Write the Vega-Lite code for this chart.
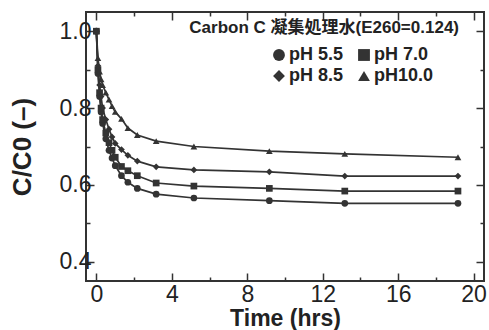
{
  "$schema": "https://vega.github.io/schema/vega-lite/v6.json",
  "width": 398,
  "height": 269,
  "autosize": "none",
  "padding": {"left": 86, "top": 12, "right": 5, "bottom": 49},
  "background": "white",
  "title": {"text": "Carbon C  凝集処理水(E260=0.124)", "anchor": "end", "frame": "group", "orient": "top", "offset": -26, "dx": -25,
    "font": "Liberation Sans, Noto Sans CJK JP", "fontSize": 17, "fontWeight": "bold", "color": "#222"},
  "config": {
    "view": {"stroke": "#333", "strokeWidth": 2},
    "font": "Liberation Sans",
    "axis": {"grid": false, "domain": false, "tickColor": "#333", "tickWidth": 1.5, "labelColor": "#222", "titleColor": "#222"}
  },
  "data": {"values": [
    {"t": 0, "v": 1.0, "pH": "pH 5.5"},
    {"t": 0.083, "v": 0.89, "pH": "pH 5.5"},
    {"t": 0.17, "v": 0.83, "pH": "pH 5.5"},
    {"t": 0.25, "v": 0.79, "pH": "pH 5.5"},
    {"t": 0.33, "v": 0.76, "pH": "pH 5.5"},
    {"t": 0.5, "v": 0.72, "pH": "pH 5.5"},
    {"t": 0.67, "v": 0.69, "pH": "pH 5.5"},
    {"t": 0.83, "v": 0.67, "pH": "pH 5.5"},
    {"t": 1.0, "v": 0.65, "pH": "pH 5.5"},
    {"t": 1.33, "v": 0.624, "pH": "pH 5.5"},
    {"t": 1.67, "v": 0.607, "pH": "pH 5.5"},
    {"t": 2.17, "v": 0.591, "pH": "pH 5.5"},
    {"t": 3.17, "v": 0.576, "pH": "pH 5.5"},
    {"t": 5.17, "v": 0.566, "pH": "pH 5.5"},
    {"t": 9.17, "v": 0.559, "pH": "pH 5.5"},
    {"t": 13.17, "v": 0.552, "pH": "pH 5.5"},
    {"t": 19.17, "v": 0.552, "pH": "pH 5.5"},
    {"t": 0, "v": 1.0, "pH": "pH 7.0"},
    {"t": 0.083, "v": 0.9, "pH": "pH 7.0"},
    {"t": 0.17, "v": 0.84, "pH": "pH 7.0"},
    {"t": 0.25, "v": 0.8, "pH": "pH 7.0"},
    {"t": 0.33, "v": 0.77, "pH": "pH 7.0"},
    {"t": 0.5, "v": 0.735, "pH": "pH 7.0"},
    {"t": 0.67, "v": 0.71, "pH": "pH 7.0"},
    {"t": 0.83, "v": 0.69, "pH": "pH 7.0"},
    {"t": 1.0, "v": 0.672, "pH": "pH 7.0"},
    {"t": 1.33, "v": 0.648, "pH": "pH 7.0"},
    {"t": 1.67, "v": 0.637, "pH": "pH 7.0"},
    {"t": 2.17, "v": 0.624, "pH": "pH 7.0"},
    {"t": 3.17, "v": 0.605, "pH": "pH 7.0"},
    {"t": 5.17, "v": 0.597, "pH": "pH 7.0"},
    {"t": 9.17, "v": 0.591, "pH": "pH 7.0"},
    {"t": 13.17, "v": 0.584, "pH": "pH 7.0"},
    {"t": 19.17, "v": 0.584, "pH": "pH 7.0"},
    {"t": 0, "v": 1.0, "pH": "pH 8.5"},
    {"t": 0.083, "v": 0.91, "pH": "pH 8.5"},
    {"t": 0.17, "v": 0.86, "pH": "pH 8.5"},
    {"t": 0.25, "v": 0.83, "pH": "pH 8.5"},
    {"t": 0.33, "v": 0.8, "pH": "pH 8.5"},
    {"t": 0.5, "v": 0.77, "pH": "pH 8.5"},
    {"t": 0.67, "v": 0.745, "pH": "pH 8.5"},
    {"t": 0.83, "v": 0.725, "pH": "pH 8.5"},
    {"t": 1.0, "v": 0.708, "pH": "pH 8.5"},
    {"t": 1.33, "v": 0.692, "pH": "pH 8.5"},
    {"t": 1.67, "v": 0.677, "pH": "pH 8.5"},
    {"t": 2.17, "v": 0.662, "pH": "pH 8.5"},
    {"t": 3.17, "v": 0.647, "pH": "pH 8.5"},
    {"t": 5.17, "v": 0.639, "pH": "pH 8.5"},
    {"t": 9.17, "v": 0.634, "pH": "pH 8.5"},
    {"t": 13.17, "v": 0.623, "pH": "pH 8.5"},
    {"t": 19.17, "v": 0.623, "pH": "pH 8.5"},
    {"t": 0, "v": 1.0, "pH": "pH10.0"},
    {"t": 0.083, "v": 0.93, "pH": "pH10.0"},
    {"t": 0.17, "v": 0.895, "pH": "pH10.0"},
    {"t": 0.25, "v": 0.875, "pH": "pH10.0"},
    {"t": 0.33, "v": 0.86, "pH": "pH10.0"},
    {"t": 0.5, "v": 0.84, "pH": "pH10.0"},
    {"t": 0.67, "v": 0.822, "pH": "pH10.0"},
    {"t": 0.83, "v": 0.805, "pH": "pH10.0"},
    {"t": 1.0, "v": 0.79, "pH": "pH10.0"},
    {"t": 1.33, "v": 0.772, "pH": "pH10.0"},
    {"t": 1.67, "v": 0.748, "pH": "pH10.0"},
    {"t": 2.17, "v": 0.73, "pH": "pH10.0"},
    {"t": 3.17, "v": 0.714, "pH": "pH10.0"},
    {"t": 5.17, "v": 0.7, "pH": "pH10.0"},
    {"t": 9.17, "v": 0.688, "pH": "pH10.0"},
    {"t": 13.17, "v": 0.681, "pH": "pH10.0"},
    {"t": 19.17, "v": 0.672, "pH": "pH10.0"}
  ]},
  "resolve": {"axis": {"x": "independent", "y": "independent"}},
  "layer": [
    {
      "mark": {"type": "line", "color": "#333", "strokeWidth": 1.7},
      "encoding": {
        "x": {"field": "t", "type": "quantitative",
          "scale": {"domain": [-0.55, 20.55], "nice": false, "zero": false},
          "axis": {"orient": "bottom", "title": "Time (hrs)", "values": [0, 2, 4, 6, 8, 10, 12, 14, 16, 18, 20],
            "labelExpr": "datum.value % 4 === 0 ? datum.label : ''",
            "tickSize": {"condition": {"test": "datum.value % 4 === 0", "value": -8}, "value": -4},
            "labelFontSize": 23, "labelPadding": 10, "titleFontSize": 23, "titleFontWeight": "bold", "titlePadding": 1}},
        "y": {"field": "v", "type": "quantitative",
          "scale": {"domain": [0.35, 1.05], "nice": false, "zero": false},
          "axis": {"orient": "left", "title": "C/C0 (–)", "values": [0.4, 0.5, 0.6, 0.7, 0.8, 0.9, 1.0], "format": ".1f",
            "labelExpr": "(round(datum.value * 10) % 2 === 0) ? datum.label : ''",
            "tickSize": {"condition": {"test": "round(datum.value * 10) % 2 === 0", "value": -8}, "value": -4},
            "labelFontSize": 23, "labelPadding": 3, "titleFontSize": 26, "titleFontWeight": "bold", "titlePadding": 24}},
        "detail": {"field": "pH"}
      }
    },
    {
      "mark": {"type": "point", "filled": true, "color": "#333", "opacity": 1, "size": 45},
      "encoding": {
        "x": {"field": "t", "type": "quantitative",
          "scale": {"domain": [-0.55, 20.55], "nice": false, "zero": false},
          "axis": {"orient": "top", "title": null, "labels": false, "values": [0, 2, 4, 6, 8, 10, 12, 14, 16, 18, 20],
            "tickSize": {"condition": {"test": "datum.value % 4 === 0", "value": -8}, "value": -4}}},
        "y": {"field": "v", "type": "quantitative",
          "scale": {"domain": [0.35, 1.05], "nice": false, "zero": false},
          "axis": {"orient": "right", "title": null, "labels": false, "values": [0.4, 0.5, 0.6, 0.7, 0.8, 0.9, 1.0],
            "tickSize": {"condition": {"test": "round(datum.value * 10) % 2 === 0", "value": -8}, "value": -4}}},
        "shape": {"field": "pH", "type": "nominal",
          "scale": {"domain": ["pH 5.5", "pH 8.5", "pH 7.0", "pH10.0"], "range": ["circle", "diamond", "square", "triangle-up"]},
          "legend": {"title": null, "orient": "none", "legendX": 184, "legendY": 34, "padding": 0,
            "columns": 2, "symbolSize": 140, "symbolFillColor": "#333", "symbolStrokeColor": "#333",
            "labelFont": "Liberation Sans", "labelFontSize": 18, "labelFontWeight": "bold", "labelColor": "#222", "labelOffset": 1, "columnPadding": 11, "rowPadding": 3}}
      }
    }
  ]
}
